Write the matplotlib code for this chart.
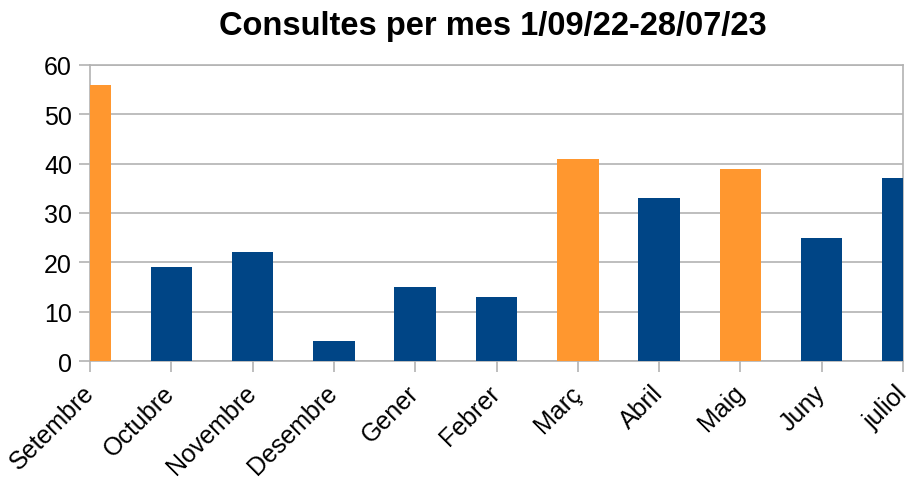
import matplotlib
matplotlib.use('Agg')
import matplotlib.pyplot as plt
import numpy as np

months = ['Setembre', 'Octubre', 'Novembre', 'Desembre', 'Gener', 'Febrer',
          'Març', 'Abril', 'Maig', 'Juny', 'juliol']
consultes = [56, 19, 22, 4, 15, 13, 41, 33, 39, 25, 37]
highlight = [True, False, False, False, False, False, True, False, True, False, False]

BLUE = '#004586'
ORANGE = '#ff972f'
GREY = '#b3b3b3'

plt.rcParams['font.family'] = ['Liberation Sans', 'DejaVu Sans']

fig = plt.figure(figsize=(9.18, 4.81), dpi=100)
ax = fig.add_axes([90 / 918, 1 - 362 / 481, 813 / 918, 296 / 481])

x = np.arange(len(months))
colors = [ORANGE if h else BLUE for h in highlight]
ax.bar(x, consultes, width=0.51, color=colors, zorder=3)

ax.set_xlim(0, len(months) - 1)
ax.set_ylim(0, 60)
ax.set_yticks(range(0, 61, 10))
ax.set_xticks(x)
ax.set_xticklabels(months, rotation=45, ha='right', va='center', rotation_mode='anchor')

ax.grid(axis='y', color=GREY, linewidth=1.2, zorder=0)
for s in ax.spines.values():
    s.set_color(GREY)
    s.set_linewidth(1.2)
ax.tick_params(axis='both', colors=GREY, length=8, width=1.2, labelcolor='black', labelsize=18)
ax.tick_params(axis='x', pad=12)
ax.tick_params(axis='y', pad=5)

# title sits a bit right of centre, like in the original
fig.text(0.537, 0.944, 'Consultes per mes 1/09/22-28/07/23', fontsize=23.5,
         fontweight='bold', ha='center', va='center')

fig.savefig('out.png', dpi=100)
